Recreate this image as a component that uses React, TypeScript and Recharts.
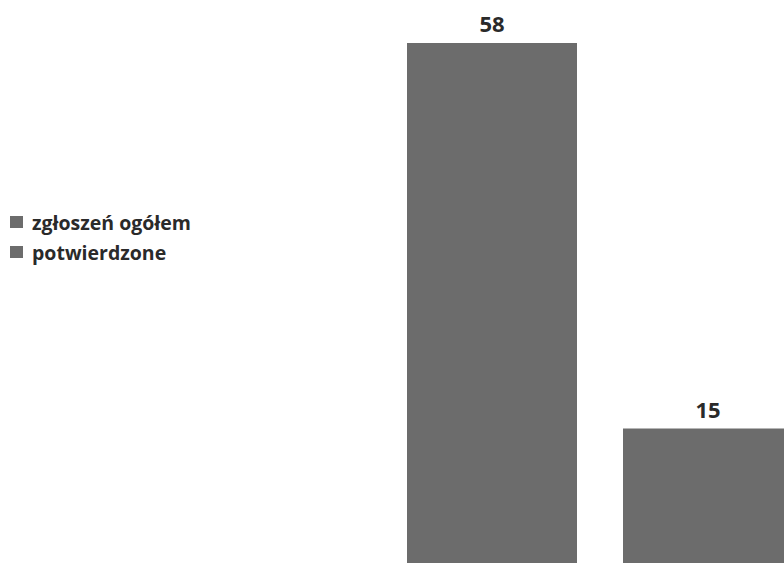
import { Bar, BarChart, LabelList, Legend, XAxis, YAxis } from "recharts";

const categories = ["zgłoszenia"];
const seriesNames = ["zgłoszeń ogółem", "potwierdzone"];
const totalValues = [58];
const confirmedValues = [15];

const data = categories.map((name, i) => ({
  name,
  total: totalValues[i],
  confirmed: confirmedValues[i],
}));

const BAR_COLOR = "#6c6c6c";
const TEXT_COLOR = "#2a2a2a";
const FONT = "'Open Sans', 'DejaVu Sans', sans-serif";

// legenda po lewej stronie, dwa szare kwadraty (kolejność jak w serii)
function SideLegend({ payload }: { payload?: { value: string; color: string }[] }) {
  const items = [...(payload ?? [])].sort(
    (a, b) => seriesNames.indexOf(a.value) - seriesNames.indexOf(b.value)
  );
  return (
    <div style={{ fontFamily: FONT, fontWeight: 700, fontSize: 19.5, color: TEXT_COLOR }}>
      {items.map((p) => (
        <div key={p.value} style={{ display: "flex", alignItems: "center", height: 30 }}>
          <span
            style={{
              display: "inline-block",
              width: 13,
              height: 12,
              background: p.color,
              marginRight: 9,
            }}
          />
          {p.value}
        </div>
      ))}
    </div>
  );
}

export default function App() {
  return (
    <div
      style={{
        position: "fixed",
        left: 0,
        top: 0,
        width: 784,
        height: 564,
        overflow: "hidden",
        background: "#fff",
      }}
    >
      <BarChart
        width={820}
        height={564}
        data={data}
        margin={{ top: 43, right: 0, bottom: 1, left: 380 }}
        barSize={170}
        barGap={46}
      >
        <XAxis dataKey="name" hide />
        <YAxis hide domain={[0, 58]} />
        <Legend
          layout="vertical"
          align="center"
          verticalAlign="middle"
          content={(props: any) => <SideLegend payload={props.payload} />}
          wrapperStyle={{ left: 10, top: 207, width: 260 }}
        />
        <Bar dataKey="total" name={seriesNames[0]} fill={BAR_COLOR} isAnimationActive={false}>
          <LabelList
            dataKey="total"
            position="top"
            offset={11}
            fill={TEXT_COLOR}
            style={{ fontFamily: FONT, fontWeight: 700, fontSize: 22 }}
          />
        </Bar>
        <Bar dataKey="confirmed" name={seriesNames[1]} fill={BAR_COLOR} isAnimationActive={false}>
          <LabelList
            dataKey="confirmed"
            position="top"
            offset={11}
            fill={TEXT_COLOR}
            style={{ fontFamily: FONT, fontWeight: 700, fontSize: 22 }}
          />
        </Bar>
      </BarChart>
    </div>
  );
}
